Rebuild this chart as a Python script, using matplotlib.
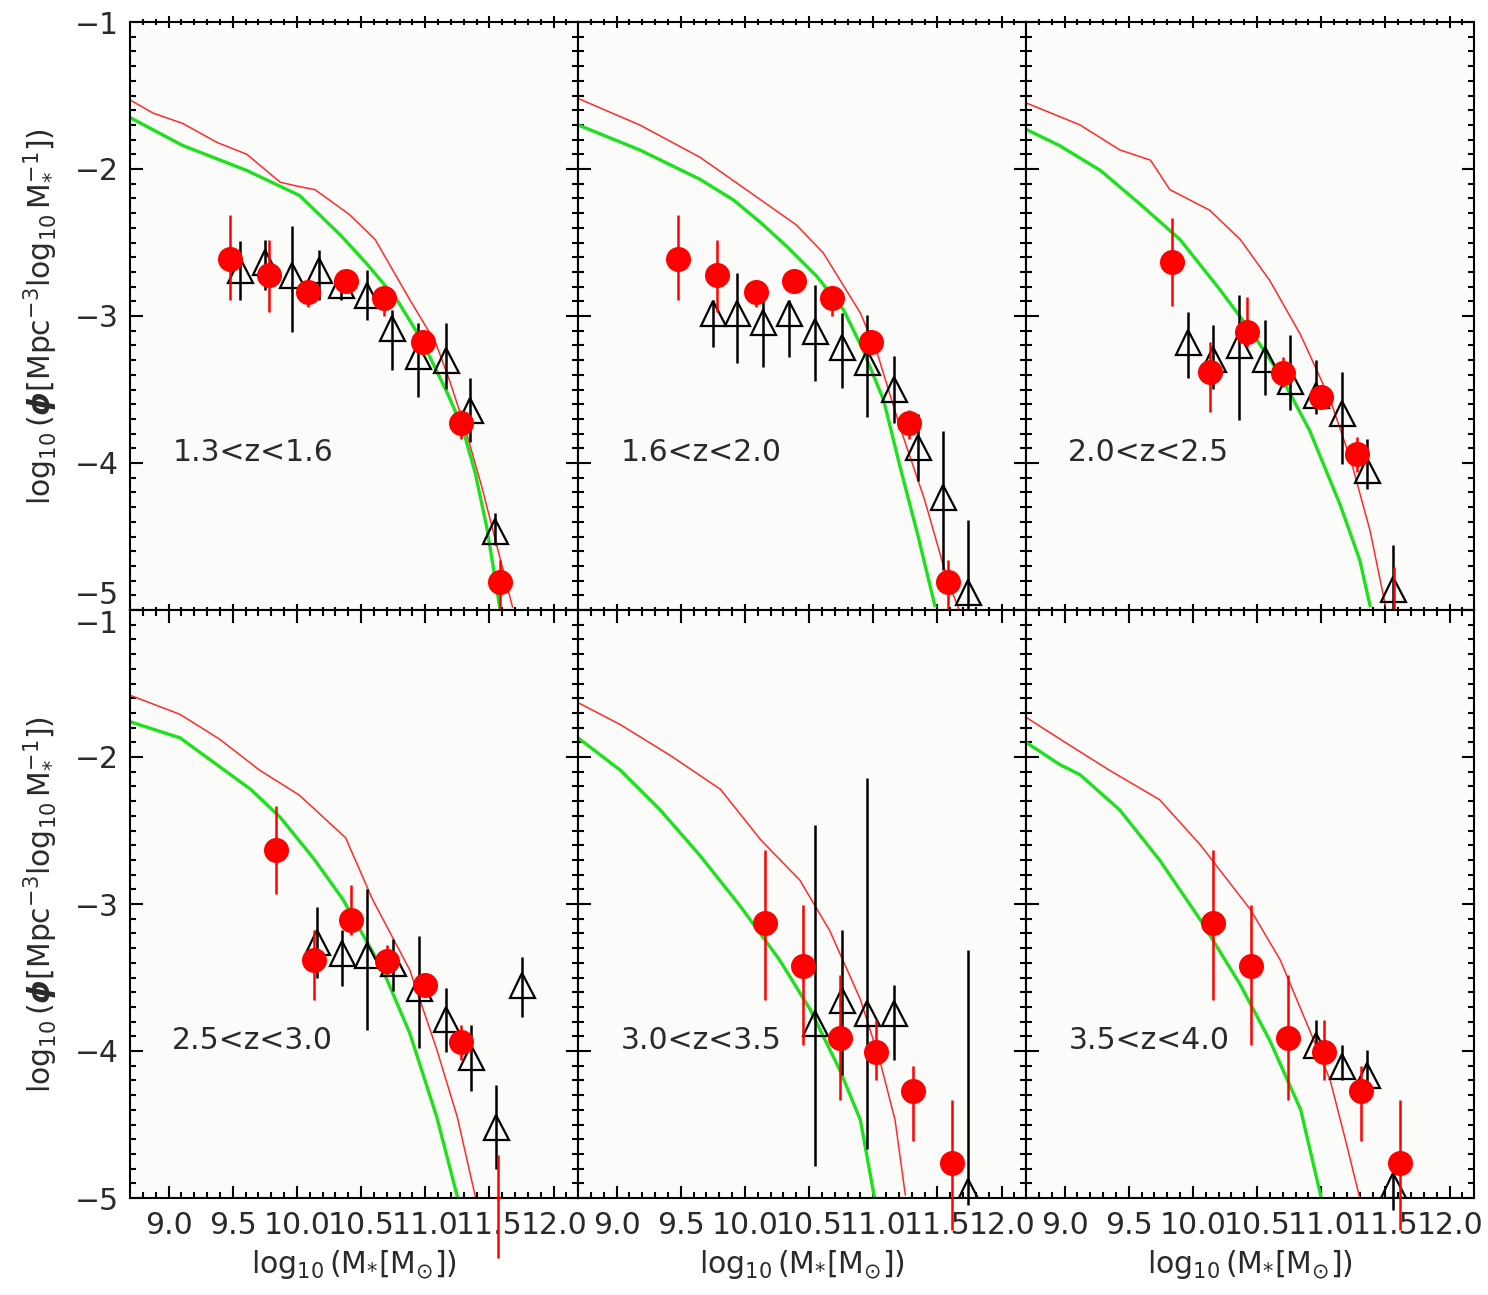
import matplotlib.pyplot as plt
import numpy as np

plt.rcParams['font.family'] = 'DejaVu Sans'
plt.rcParams['mathtext.fontset'] = 'dejavusans'

# redshift bins, one per panel
z_labels = ['1.3<z<1.6', '1.6<z<2.0', '2.0<z<2.5',
            '2.5<z<3.0', '3.0<z<3.5', '3.5<z<4.0']

# model curves (red: thin line, green: thick line)
red_x = [
    [8.70, 8.88, 9.11, 9.38, 9.61, 9.87, 10.02, 10.14, 10.41, 10.61, 10.88, 11.08, 11.19, 11.31, 11.44, 11.56, 11.68],
    [8.70, 9.18, 9.65, 10.14, 10.40, 10.61, 10.90, 11.03, 11.21, 11.40, 11.58, 11.67],
    [8.70, 9.12, 9.43, 9.67, 9.82, 10.13, 10.37, 10.60, 10.84, 11.07, 11.23, 11.38, 11.50],
    [8.70, 9.09, 9.40, 9.71, 10.02, 10.38, 10.59, 10.88, 11.09, 11.25, 11.39],
    [8.70, 9.03, 9.42, 9.81, 10.12, 10.43, 10.66, 10.90, 11.05, 11.17, 11.25],
    [8.70, 9.04, 9.35, 9.74, 10.06, 10.45, 10.68, 10.91, 11.07, 11.19, 11.30],
]
red_y = [
    [-1.53, -1.62, -1.69, -1.82, -1.90, -2.09, -2.12, -2.14, -2.31, -2.48, -2.89, -3.18, -3.44, -3.76, -4.16, -4.57, -4.98],
    [-1.52, -1.70, -1.92, -2.22, -2.38, -2.57, -2.98, -3.25, -3.76, -4.25, -4.80, -5.00],
    [-1.55, -1.70, -1.87, -1.94, -2.14, -2.28, -2.48, -2.76, -3.13, -3.57, -3.98, -4.46, -4.97],
    [-1.58, -1.71, -1.88, -2.09, -2.26, -2.55, -2.97, -3.45, -3.99, -4.45, -4.99],
    [-1.63, -1.78, -1.99, -2.22, -2.56, -2.84, -3.18, -3.65, -4.06, -4.47, -4.98],
    [-1.73, -1.92, -2.09, -2.29, -2.60, -3.04, -3.38, -3.86, -4.20, -4.61, -5.00],
]
green_x = [
    [8.70, 9.11, 9.61, 10.02, 10.34, 10.55, 10.78, 10.97, 11.17, 11.29, 11.39, 11.48, 11.58],
    [8.70, 9.18, 9.65, 9.91, 10.13, 10.33, 10.56, 10.77, 10.92, 11.08, 11.21, 11.35, 11.48],
    [8.70, 8.96, 9.28, 9.59, 9.90, 10.21, 10.45, 10.68, 10.91, 11.15, 11.30, 11.38],
    [8.70, 9.09, 9.64, 9.87, 10.13, 10.36, 10.67, 10.88, 11.09, 11.25],
    [8.70, 9.03, 9.34, 9.65, 9.96, 10.27, 10.51, 10.74, 10.90, 11.01],
    [8.70, 8.96, 9.12, 9.43, 9.74, 10.06, 10.37, 10.60, 10.84, 11.00],
]
green_y = [
    [-1.65, -1.84, -2.01, -2.18, -2.45, -2.65, -2.89, -3.16, -3.52, -3.76, -4.07, -4.44, -4.98],
    [-1.70, -1.87, -2.07, -2.21, -2.37, -2.53, -2.73, -2.96, -3.23, -3.57, -4.03, -4.50, -4.97],
    [-1.73, -1.84, -2.01, -2.24, -2.48, -2.82, -3.10, -3.40, -3.78, -4.29, -4.66, -4.97],
    [-1.76, -1.87, -2.22, -2.41, -2.69, -2.97, -3.45, -3.88, -4.45, -4.99],
    [-1.87, -2.09, -2.36, -2.67, -3.01, -3.38, -3.72, -4.13, -4.47, -5.00],
    [-1.90, -2.05, -2.12, -2.36, -2.70, -3.11, -3.55, -3.93, -4.40, -5.00],
]

# filled red circles: three data sets, each shown in two panels
circ_x = [
    [9.48, 9.78, 10.09, 10.38, 10.68, 10.98, 11.28, 11.58],
    [9.84, 10.13, 10.42, 10.70, 11.00, 11.28, 11.57],
    [10.16, 10.45, 10.74, 11.02, 11.31, 11.61],
]
circ_y = [
    [-2.61, -2.72, -2.84, -2.76, -2.88, -3.18, -3.73, -4.81],
    [-2.63, -3.38, -3.11, -3.39, -3.55, -3.94, -5.08],
    [-3.13, -3.42, -3.91, -4.01, -4.27, -4.76],
]
circ_hi = [
    [-2.31, -2.48, -2.78, -2.70, -2.81, -3.11, -3.64, -4.66],
    [-2.33, -3.18, -2.87, -3.28, -3.48, -3.82, -4.71],
    [-2.63, -3.01, -3.48, -3.79, -4.10, -4.33],
]
circ_lo = [
    [-2.89, -2.97, -2.94, -2.82, -3.00, -3.24, -3.84, -5.10],
    [-2.93, -3.65, -3.21, -3.48, -3.62, -4.06, -5.41],
    [-3.65, -3.96, -4.33, -4.20, -4.61, -5.22],
]
circ_set = [0, 0, 1, 1, 2, 2]

# open black triangles, one set per panel
tri_x = [
    [9.56, 9.75, 9.96, 10.17, 10.34, 10.55, 10.74, 10.94, 11.16, 11.35, 11.54],
    [9.75, 9.94, 10.14, 10.34, 10.55, 10.76, 10.95, 11.16, 11.35, 11.54, 11.74],
    [9.96, 10.16, 10.36, 10.56, 10.76, 10.96, 11.16, 11.36, 11.56],
    [10.16, 10.35, 10.55, 10.75, 10.95, 11.16, 11.36, 11.55, 11.75],
    [10.55, 10.76, 10.95, 11.16, 11.74],
    [10.96, 11.16, 11.36, 11.56],
]
tri_y = [
    [-2.69, -2.63, -2.72, -2.69, -2.79, -2.86, -3.08, -3.27, -3.30, -3.64, -4.46],
    [-2.98, -2.98, -3.04, -2.98, -3.10, -3.21, -3.31, -3.50, -3.89, -4.23, -4.88],
    [-3.18, -3.29, -3.20, -3.29, -3.44, -3.54, -3.66, -4.05, -4.86],
    [-3.26, -3.33, -3.35, -3.40, -3.57, -3.78, -4.04, -4.52, -3.55],
    [-3.81, -3.65, -3.74, -3.74, -4.95],
    [-3.96, -4.10, -4.16, -4.91],
]
tri_hi = [
    [-2.49, -2.48, -2.39, -2.55, -2.69, -2.69, -2.96, -3.05, -3.05, -3.42, -4.34],
    [-2.89, -2.71, -2.89, -2.89, -2.79, -2.98, -2.99, -3.27, -3.67, -3.78, -4.39],
    [-2.97, -3.06, -2.86, -3.03, -3.13, -3.30, -3.38, -3.84, -4.56],
    [-3.02, -3.18, -2.90, -3.24, -3.22, -3.57, -3.82, -4.23, -3.36],
    [-2.46, -3.18, -2.14, -3.55, -3.31],
    [-3.79, -3.96, -3.99, -4.74],
]
tri_lo = [
    [-2.89, -2.82, -3.11, -2.89, -2.89, -3.03, -3.37, -3.55, -3.50, -3.86, -4.56],
    [-3.21, -3.32, -3.35, -3.28, -3.44, -3.49, -3.69, -3.73, -4.12, -4.73, -5.12],
    [-3.42, -3.50, -3.71, -3.54, -3.64, -3.67, -4.01, -4.18, -5.17],
    [-3.50, -3.56, -3.86, -3.59, -3.98, -4.01, -4.27, -4.80, -3.77],
    [-4.78, -4.16, -4.67, -4.06, -5.05],
    [-4.06, -4.20, -4.33, -5.08],
]

xmin, xmax = 8.70, 12.19
ymin, ymax = -5.0, -1.0
xmajor = np.arange(9.0, 12.01, 0.5)
ymajor = np.arange(-5, -0.5, 1.0)

W, H = 1488, 1295
fig = plt.figure(figsize=(W / 100, H / 100), dpi=100)
txt_col = '#2a2a2a'

for i in range(6):
    row, col = divmod(i, 3)
    left = (130 + 448 * col) / W
    bottom = 1 - (22 + 588 * (row + 1)) / H
    ax = fig.add_axes([left, bottom, 448 / W, 588 / H])
    ax.set_facecolor('#fbfcf9')

    ax.plot(red_x[i], red_y[i], color='#ff2a2a', lw=1.1, zorder=2)
    ax.plot(green_x[i], green_y[i], color='#1ee01e', lw=2.4, zorder=2)

    ax.vlines(tri_x[i], tri_lo[i], tri_hi[i], color='k', lw=1.8, zorder=3, clip_on=False)
    ax.plot(tri_x[i], tri_y[i], '^', mfc='none', mec='k', ms=18, mew=1.6, ls='none', zorder=3)

    s = circ_set[i]
    ax.vlines(circ_x[s], circ_lo[s], circ_hi[s], color='#ff0000', lw=1.8, zorder=4, clip_on=False)
    ax.plot(circ_x[s], circ_y[s], 'o', color='#ff0000', ms=17, ls='none', zorder=5)

    ax.text(9.03, -3.93, z_labels[i], fontsize=21.5, color=txt_col, va='center', ha='left')

    ax.set_xlim(xmin, xmax)
    ax.set_ylim(ymin, ymax)
    ax.set_xticks(xmajor)
    ax.set_xticks(np.arange(8.8, 12.15, 0.1), minor=True)
    ax.set_yticks(ymajor)
    ax.set_yticks(np.arange(-5, -0.95, 0.1), minor=True)
    ax.set_xticklabels(['%.1f' % v for v in xmajor])
    ax.set_yticklabels(['\u2212%d' % -v for v in ymajor])
    ax.tick_params(which='both', direction='in', top=True, right=True,
                   color='k', labelcolor=txt_col, labelsize=21.5)
    ax.tick_params(which='major', length=9, width=1.5)
    ax.tick_params(which='minor', length=4.5, width=1.5)
    ax.tick_params(axis='x', pad=9)
    ax.tick_params(axis='y', pad=8)
    if row == 0:
        ax.tick_params(axis='x', which='both', direction='inout', labelbottom=False)
    if col > 0:
        ax.tick_params(axis='y', labelleft=False)
    for sp in ax.spines.values():
        sp.set_linewidth(1.5)

    if col == 0:
        ticks = ax.yaxis.get_major_ticks()
        if row == 0:
            ticks[0].label1.set_va('bottom')
        else:
            ticks[-1].label1.set_va('top')

    if row == 1:
        ax.set_xlabel(r'$\log_{10}(\mathrm{M}_{*}[\mathrm{M}_{\odot}])$',
                      fontsize=21.5, color=txt_col, labelpad=6)

ylab = r'$\log_{10}(\boldsymbol{\phi}[\mathrm{Mpc}^{-3}\log_{10}\mathrm{M}_{*}^{-1}])$'
for row in range(2):
    yc = 1 - (22 + 588 * row + 294) / H
    fig.text(0.027, yc, ylab, rotation=90, fontsize=21.5, color=txt_col,
             ha='center', va='center')

fig.savefig('out.png', dpi=100, facecolor='white')
